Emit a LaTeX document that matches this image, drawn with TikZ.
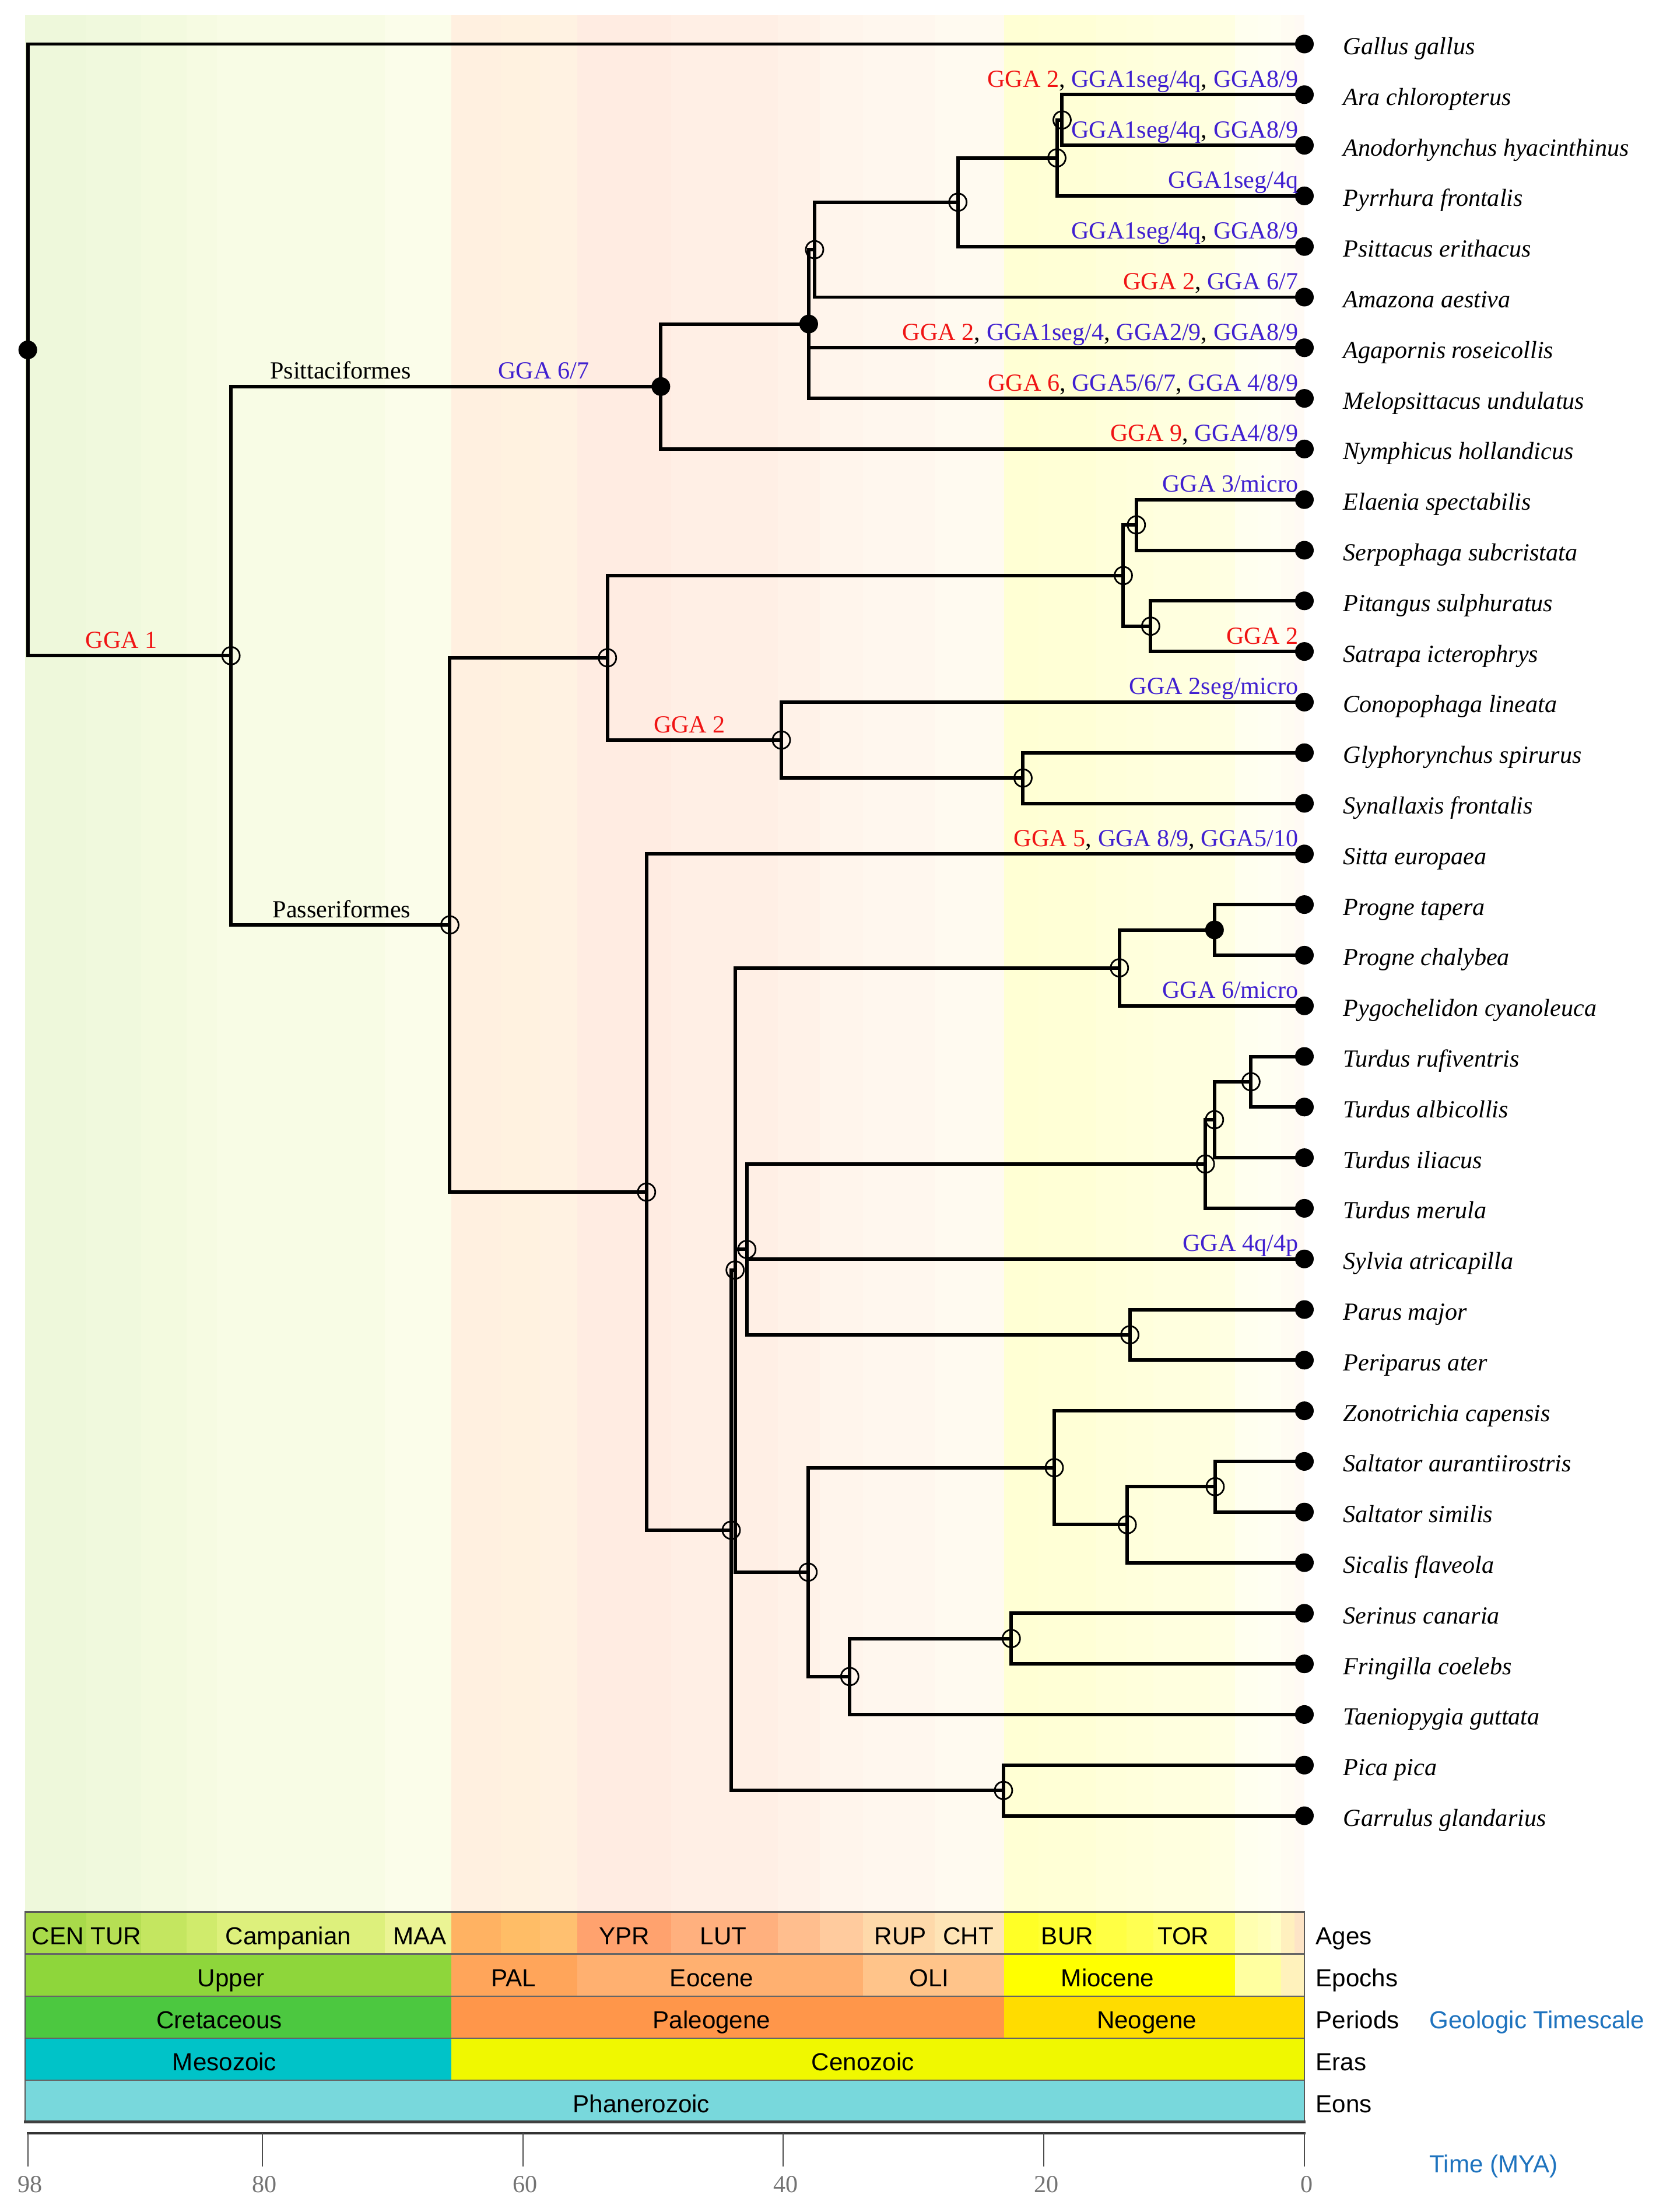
\documentclass[tikz,border=0pt]{standalone}
\usepackage{fontspec}
\setmainfont{Liberation Serif}
\setsansfont{Liberation Sans}
\usepackage{tikz}

% chromosome label colours
\definecolor{gred}{RGB}{240,20,20}
\definecolor{gblue}{RGB}{64,32,208}
\definecolor{tsblue}{RGB}{30,115,190}
% ages
\definecolor{cen}{HTML}{A8DA4A}\definecolor{tur}{HTML}{B6DF54}
\definecolor{con}{HTML}{C4E660}\definecolor{san}{HTML}{D0EB6C}
\definecolor{cam}{HTML}{DDF07C}\definecolor{maa}{HTML}{EBF494}
\definecolor{dan}{HTML}{FFB262}\definecolor{sel}{HTML}{FFBD66}
\definecolor{tha}{HTML}{FFC070}\definecolor{ypr}{HTML}{FFA26E}
\definecolor{lut}{HTML}{FFB07E}\definecolor{bar}{HTML}{FFBE8E}
\definecolor{pri}{HTML}{FFCB9E}\definecolor{rup}{HTML}{FED9AA}
\definecolor{cht}{HTML}{FEE4B6}\definecolor{aqu}{HTML}{FFFF26}
\definecolor{bur}{HTML}{FFFF34}\definecolor{lan}{HTML}{FFFF44}
\definecolor{ser}{HTML}{FFFF52}\definecolor{tor}{HTML}{FFFF60}
\definecolor{mes}{HTML}{FFFF70}\definecolor{zan}{HTML}{FFFFB0}
\definecolor{pia}{HTML}{FFFFBA}\definecolor{gel}{HTML}{FFFFC4}
\definecolor{cal}{HTML}{FFF0BE}\definecolor{ion}{HTML}{FDE4C6}
% epochs, periods, eras, eons
\definecolor{upk}{HTML}{8ED63B}\definecolor{pal}{HTML}{FFA55A}
\definecolor{eoc}{HTML}{FFB070}\definecolor{oli}{HTML}{FFC48A}
\definecolor{mio}{HTML}{FFFF00}\definecolor{pli}{HTML}{FFFFA0}
\definecolor{ple}{HTML}{FFF2BC}
\definecolor{cret}{HTML}{4CC840}\definecolor{paleog}{HTML}{FF964A}
\definecolor{neog}{HTML}{FFDC00}
\definecolor{meso}{HTML}{00C3C8}\definecolor{ceno}{HTML}{F0F800}
\definecolor{phan}{HTML}{78D8DC}

\newcommand{\chr}[1]{\textcolor{gred}{#1}}
\newcommand{\chb}[1]{\textcolor{gblue}{#1}}

\tikzset{
  branch/.style={line width=1.7pt},
  hollow/.style={line width=0.8pt},
  taxon/.style={anchor=base west,inner sep=0pt,xshift=6.6mm,yshift=-1.8mm,
    font=\fontsize{12}{14}\selectfont\itshape},
  gga/.style={anchor=base east,inner sep=0pt,xshift=-1mm,yshift=1.3mm,
    font=\fontsize{12}{14}\selectfont},
  clade/.style={anchor=base,inner sep=0pt,yshift=1.3mm,
    font=\fontsize{12}{14}\selectfont},
  tsl/.style={anchor=base,inner sep=0pt,yshift=1.6mm,
    font=\sffamily\fontsize{12}{14}\selectfont},
}

\begin{document}
\begin{tikzpicture}[line cap=rect,line join=miter,x={(-2.234mm,0)},y={(0,-8.68mm)}]
\useasboundingbox (100.134,-0.8698) rectangle (-27.529,42.8283);

% faded ages behind the tree, and the ages row
\foreach \a/\b/\col in {98.19/93.5/cen,93.5/89.3/tur,89.3/85.8/con,85.8/83.5/san,
  83.5/70.6/cam,70.6/65.5/maa,65.5/61.7/dan,61.7/58.7/sel,58.7/55.8/tha,
  55.8/48.6/ypr,48.6/40.4/lut,40.4/37.2/bar,37.2/33.9/pri,33.9/28.4/rup,
  28.4/23.03/cht,23.03/20.43/aqu,20.43/15.97/bur,15.97/13.65/lan,13.65/11.61/ser,
  11.61/7.25/tor,7.25/5.33/mes,5.33/3.6/zan,3.6/2.59/pia,2.59/1.806/gel,
  1.806/0.781/cal,0.781/0/ion}
{
\fill[fill=\col!20] (\a,-0.57) rectangle (\b,36.9);
\fill[fill=\col] (\a,36.9) rectangle (\b,37.73);
}
\foreach \a/\b/\col in {98.19/65.5/upk,65.5/55.8/pal,55.8/33.9/eoc,33.9/23.03/oli,
  23.03/5.33/mio,5.33/1.806/pli,1.806/0/ple}
\fill[fill=\col] (\a,37.73) rectangle (\b,38.56);
\foreach \a/\b/\col in {98.19/65.5/cret,65.5/23.03/paleog,23.03/0/neog}
\fill[fill=\col] (\a,38.56) rectangle (\b,39.39);
\foreach \a/\b/\col in {98.19/65.5/meso,65.5/0/ceno}
\fill[fill=\col] (\a,39.39) rectangle (\b,40.22);
\fill[fill=phan] (98.19,40.22) rectangle (0,41.05);
\foreach \y in {37.73,38.56,39.39,40.22}
\draw[black!60,line width=0.6pt] (98.19,\y) -- (0,\y);
\draw[black!65,line width=0.6pt] (98.19,41.05) |- (0,36.9) -- (0,41.05);
\draw[black!75,line width=1.3pt] (98.19,41.05) -- (0,41.05);

% timescale texts
\node[tsl,anchor=base west] (ts0) at (97.72,37.73) {CEN TUR};
\foreach \x/\y/\t [count=\k] in {78.0/37.73/Campanian,67.9/37.73/MAA,52.2/37.73/YPR,
  44.6/37.73/LUT,31.0/37.73/RUP,25.8/37.73/CHT,18.2/37.73/BUR,9.3/37.73/TOR,
  82.4/38.56/Upper,60.7/38.56/PAL,45.5/38.56/Eocene,28.8/38.56/OLI,15.1/38.56/Miocene,
  83.3/39.39/Cretaceous,45.5/39.39/Paleogene,12.1/39.39/Neogene,
  82.9/40.22/Mesozoic,33.9/40.22/Cenozoic,50.9/41.05/Phanerozoic}
\node[tsl] (ts\k) at (\x,\y) {\t};
\foreach \y/\t [count=\k] in {37.73/Ages,38.56/Epochs,39.39/Periods,40.22/Eras,41.05/Eons}
\node[tsl,anchor=base west] (rank\k) at (-0.85,\y) {\t};
\node[tsl,anchor=base west,text=tsblue] (tstitle) at (-9.58,39.39) {Geologic Timescale};
\node[tsl,anchor=base west,text=tsblue,yshift=0pt] (tunit) at (-9.58,42.23) {Time (MYA)};

% time axis
\draw[black!80,line width=1.2pt] (98,41.275) -- (0,41.275);
\foreach \x in {98,80,60,40,20,0}
\draw[shift={(\x,41.275)},black!70,line width=0.6pt] (0,0) -- (0,0.645)
  node[anchor=base,inner sep=0pt,yshift=-4.5mm,xshift=0.4mm,text=black!55,
  font=\fontsize{12}{14}\selectfont] {\x};

% tips
\foreach \i/\name in {0/Gallus gallus,1/Ara chloropterus,2/Anodorhynchus hyacinthinus,
  3/Pyrrhura frontalis,4/Psittacus erithacus,5/Amazona aestiva,6/Agapornis roseicollis,
  7/Melopsittacus undulatus,8/Nymphicus hollandicus,9/Elaenia spectabilis,
  10/Serpophaga subcristata,11/Pitangus sulphuratus,12/Satrapa icterophrys,
  13/Conopophaga lineata,14/Glyphorynchus spirurus,15/Synallaxis frontalis,
  16/Sitta europaea,17/Progne tapera,18/Progne chalybea,19/Pygochelidon cyanoleuca,
  20/Turdus rufiventris,21/Turdus albicollis,22/Turdus iliacus,23/Turdus merula,
  24/Sylvia atricapilla,25/Parus major,26/Periparus ater,27/Zonotrichia capensis,
  28/Saltator aurantiirostris,29/Saltator similis,30/Sicalis flaveola,
  31/Serinus canaria,32/Fringilla coelebs,33/Taeniopygia guttata,34/Pica pica,
  35/Garrulus glandarius}
{
\coordinate (tip\i) at (0,\i);
\node[taxon] (name\i) at (tip\i) {\name};
}

% internal nodes (age, row)
\coordinate (root) at (98.0,6.042);
\coordinate (neoav) at (82.4,12.084);
\coordinate (psit) at (49.4,6.766);
\coordinate (psitA) at (38.05,5.531);
\coordinate (psitB) at (37.6,4.0625);
\coordinate (psitC) at (26.6,3.125);
\coordinate (psitD) at (19.0,2.25);
\coordinate (psitE) at (18.6,1.5);
\coordinate (passer) at (65.6,17.402);
\coordinate (tyranni) at (53.5,12.125);
\coordinate (tyran) at (13.9,10.5);
\coordinate (tyranA) at (12.9,9.5);
\coordinate (tyranB) at (11.8,11.5);
\coordinate (furn) at (40.15,13.75);
\coordinate (furnA) at (21.6,14.5);
\coordinate (oscines) at (50.5,22.68);
\coordinate (oscA) at (44.0,29.359);
\coordinate (oscB) at (43.7,24.219);
\coordinate (hirund) at (14.2,18.25);
\coordinate (progne) at (6.9,17.5);
\coordinate (oscC) at (42.8,23.8125);
\coordinate (turdA) at (7.6,22.125);
\coordinate (turdB) at (6.9,21.25);
\coordinate (turdC) at (4.1,20.5);
\coordinate (parid) at (13.4,25.5);
\coordinate (oscD) at (38.1,30.1875);
\coordinate (embz) at (19.2,28.125);
\coordinate (embzA) at (13.6,29.25);
\coordinate (saltat) at (6.85,28.5);
\coordinate (fring) at (34.9,32.25);
\coordinate (fringA) at (22.5,31.5);
\coordinate (corvid) at (23.1,34.5);

% branches
\foreach \p/\c in {root/tip0,root/neoav,neoav/psit,neoav/passer,
  psit/psitA,psit/tip8,psitA/psitB,psitA/tip6,psitA/tip7,psitB/psitC,psitB/tip5,
  psitC/psitD,psitC/tip4,psitD/psitE,psitD/tip3,psitE/tip1,psitE/tip2,
  passer/tyranni,passer/oscines,tyranni/tyran,tyranni/furn,
  tyran/tyranA,tyran/tyranB,tyranA/tip9,tyranA/tip10,tyranB/tip11,tyranB/tip12,
  furn/tip13,furn/furnA,furnA/tip14,furnA/tip15,
  oscines/tip16,oscines/oscA,oscA/oscB,oscA/corvid,
  oscB/hirund,oscB/oscC,oscB/oscD,hirund/progne,hirund/tip19,progne/tip17,progne/tip18,
  oscC/turdA,oscC/tip24,oscC/parid,turdA/turdB,turdA/tip23,turdB/turdC,turdB/tip22,
  turdC/tip20,turdC/tip21,parid/tip25,parid/tip26,
  oscD/embz,oscD/fring,embz/tip27,embz/embzA,embzA/saltat,embzA/tip30,
  saltat/tip28,saltat/tip29,fring/fringA,fring/tip33,fringA/tip31,fringA/tip32,
  corvid/tip34,corvid/tip35}
\draw[branch] (\p) |- (\c);

% node marks
\foreach \n in {neoav,psitB,psitC,psitD,psitE,passer,tyranni,tyran,tyranA,tyranB,
  furn,furnA,oscines,oscA,oscB,hirund,oscC,turdA,turdB,turdC,parid,oscD,embz,
  embzA,saltat,fring,fringA,corvid}
\draw[hollow] (\n) circle (1.5mm);
\foreach \n in {root,psit,psitA,progne}
\fill (\n) circle (1.6mm);
\foreach \i in {0,...,35}
\fill (tip\i) circle (1.6mm);

% chromosome changes on branches
\node[gga] (gga1) at (tip1) {\chr{GGA 2}, \chb{GGA1seg/4q}, \chb{GGA8/9}};
\node[gga] (gga2) at (tip2) {\chb{GGA1seg/4q}, \chb{GGA8/9}};
\node[gga] (gga3) at (tip3) {\chb{GGA1seg/4q}};
\node[gga] (gga4) at (tip4) {\chb{GGA1seg/4q}, \chb{GGA8/9}};
\node[gga] (gga5) at (tip5) {\chr{GGA 2}, \chb{GGA 6/7}};
\node[gga] (gga6) at (tip6) {\chr{GGA 2}, \chb{GGA1seg/4}, \chb{GGA2/9}, \chb{GGA8/9}};
\node[gga] (gga7) at (tip7) {\chr{GGA 6}, \chb{GGA5/6/7}, \chb{GGA 4/8/9}};
\node[gga] (gga8) at (tip8) {\chr{GGA 9}, \chb{GGA4/8/9}};
\node[gga] (gga9) at (tip9) {\chb{GGA 3/micro}};
\node[gga] (gga12) at (tip12) {\chr{GGA 2}};
\node[gga] (gga13) at (tip13) {\chb{GGA 2seg/micro}};
\node[gga] (gga16) at (tip16) {\chr{GGA 5}, \chb{GGA 8/9}, \chb{GGA5/10}};
\node[gga] (gga19) at (tip19) {\chb{GGA 6/micro}};
\node[gga] (gga24) at (tip24) {\chb{GGA 4q/4p}};
\node[clade] (cl1) at (90.8,12.084) {\chr{GGA 1}};
\node[clade] (cl2) at (74.0,6.766) {Psittaciformes};
\node[clade] (cl3) at (58.4,6.766) {\chb{GGA 6/7}};
\node[clade] (cl4) at (73.9,17.402) {Passeriformes};
\node[clade] (cl5) at (47.2,13.75) {\chr{GGA 2}};
\end{tikzpicture}
\end{document}
